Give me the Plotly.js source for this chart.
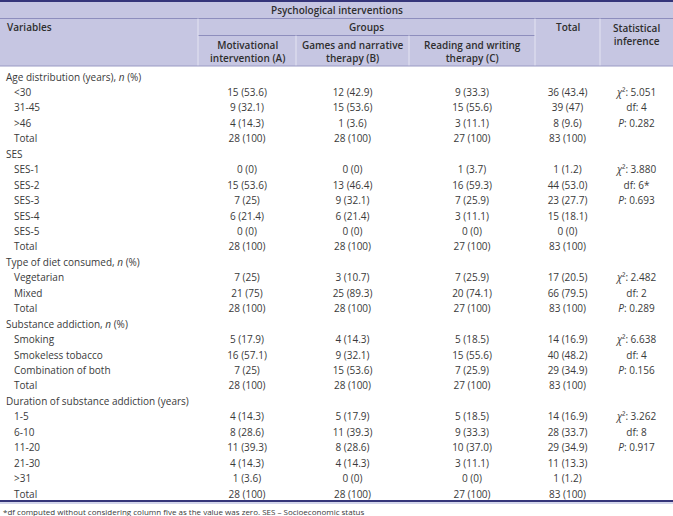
<!DOCTYPE html>
<html>
<head>
<meta charset="utf-8">
<script src="https://cdn.plot.ly/plotly-3.0.1.min.js"></script>
<style>html,body{margin:0;padding:0;background:#fff;}#chart{width:673px;height:516px;}</style>
</head>
<body>
<div id="chart"></div>
<script>
// ---------- DATA ----------
const tableTitle = "Psychological interventions";
const groupHeader = "Groups";
const colHeaders = ["Variables", "Motivational<br>intervention (A)", "Games and narrative<br>therapy (B)", "Reading and writing<br>therapy (C)", "Total", "Statistical<br>inference"];

const labels = [
  "Age distribution (years), <i>n</i> (%)", "&lt;30", "31-45", "&gt;46", "Total",
  "SES", "SES-1", "SES-2", "SES-3", "SES-4", "SES-5", "Total",
  "Type of diet consumed, <i>n</i> (%)", "Vegetarian", "Mixed", "Total",
  "Substance addiction, <i>n</i> (%)", "Smoking", "Smokeless tobacco", "Combination of both", "Total",
  "Duration of substance addiction (years)", "1-5", "6-10", "11-20", "21-30", "&gt;31", "Total"
];
const groupA = ["", "15 (53.6)", "9 (32.1)", "4 (14.3)", "28 (100)",
  "", "0 (0)", "15 (53.6)", "7 (25)", "6 (21.4)", "0 (0)", "28 (100)",
  "", "7 (25)", "21 (75)", "28 (100)",
  "", "5 (17.9)", "16 (57.1)", "7 (25)", "28 (100)",
  "", "4 (14.3)", "8 (28.6)", "11 (39.3)", "4 (14.3)", "1 (3.6)", "28 (100)"];
const groupB = ["", "12 (42.9)", "15 (53.6)", "1 (3.6)", "28 (100)",
  "", "0 (0)", "13 (46.4)", "9 (32.1)", "6 (21.4)", "0 (0)", "28 (100)",
  "", "3 (10.7)", "25 (89.3)", "28 (100)",
  "", "4 (14.3)", "9 (32.1)", "15 (53.6)", "28 (100)",
  "", "5 (17.9)", "11 (39.3)", "8 (28.6)", "4 (14.3)", "0 (0)", "28 (100)"];
const groupC = ["", "9 (33.3)", "15 (55.6)", "3 (11.1)", "27 (100)",
  "", "1 (3.7)", "16 (59.3)", "7 (25.9)", "3 (11.1)", "0 (0)", "27 (100)",
  "", "7 (25.9)", "20 (74.1)", "27 (100)",
  "", "5 (18.5)", "15 (55.6)", "7 (25.9)", "27 (100)",
  "", "5 (18.5)", "9 (33.3)", "10 (37.0)", "3 (11.1)", "0 (0)", "27 (100)"];
const totals = ["", "36 (43.4)", "39 (47)", "8 (9.6)", "83 (100)",
  "", "1 (1.2)", "44 (53.0)", "23 (27.7)", "15 (18.1)", "0 (0)", "83 (100)",
  "", "17 (20.5)", "66 (79.5)", "83 (100)",
  "", "14 (16.9)", "40 (48.2)", "29 (34.9)", "83 (100)",
  "", "14 (16.9)", "28 (33.7)", "29 (34.9)", "11 (13.3)", "1 (1.2)", "83 (100)"];
const CHI = "<i>χ</i>²: ";
const stats = ["", CHI + "5.051", "df: 4", "<i>P</i>: 0.282", "",
  "", CHI + "3.880", "df: 6*", "<i>P</i>: 0.693", "", "", "",
  "", CHI + "2.482", "df: 2", "<i>P</i>: 0.289",
  "", CHI + "6.638", "df: 4", "<i>P</i>: 0.156", "",
  "", CHI + "3.262", "df: 8", "<i>P</i>: 0.917", "", "", ""];
const footnote = "*df computed without considering column five as the value was zero. SES – Socioeconomic status";

// ---------- LAYOUT CONSTANTS ----------
const W = 673, H = 516;
const FONT = "Open Sans";
const bodySize = 10, headSize = 10;
const txt = "#3a3a3a";
const headBg = "#c6c6e2";
const navy = "#35357a";
const colEdges = [0, 198, 296, 409, 535, 600, 673];
const colCenter = i => (colEdges[i] + colEdges[i + 1]) / 2;
const firstRowPx = 78, lastRowPx = 495;
const nRows = labels.length;
const rowStep = (lastRowPx - firstRowPx) / (nRows - 1);
const yMin = -firstRowPx / rowStep;
const yMax = yMin + H / rowStep;
const py = p => 1 - p / H; // pixel -> paper

const isSection = groupA.map(v => v === "");

function textTrace(col, xFor, pos) {
  const idx = col.map((v, i) => i).filter(i => col[i] !== "");
  return {
    type: "scatter", mode: "text",
    x: idx.map(xFor), y: idx,
    text: idx.map(i => col[i]), textposition: pos,
    textfont: {family: FONT, size: bodySize, color: txt},
    hoverinfo: "skip", showlegend: false, cliponaxis: false
  };
}

const traces = [];
traces.push(textTrace(labels, i => isSection[i] ? 6 : 14, "middle right"));
[groupA, groupB, groupC, totals, stats].forEach((col, k) => {
  traces.push(textTrace(col, () => colCenter(k + 1), "middle center"));
});

const shapes = [];
shapes.push({type: "rect", xref: "x", yref: "paper", x0: 0, x1: W, y0: py(0), y1: py(66), fillcolor: headBg, line: {width: 0}, layer: "below"});
shapes.push({type: "line", xref: "x", yref: "paper", x0: 0, x1: W, y0: py(1), y1: py(1), line: {color: navy, width: 2}});
shapes.push({type: "line", xref: "x", yref: "paper", x0: 0, x1: W, y0: py(18.5), y1: py(18.5), line: {color: "#8e8ebd", width: 1}});
shapes.push({type: "line", xref: "x", yref: "paper", x0: colEdges[1], x1: colEdges[4], y0: py(35.5), y1: py(35.5), line: {color: "#8e8ebd", width: 1}});
[1, 4, 5].forEach(i => shapes.push({type: "line", xref: "x", yref: "paper", x0: colEdges[i], x1: colEdges[i], y0: py(18.5), y1: py(66), line: {color: "#e4e4f2", width: 1}}));
[2, 3].forEach(i => shapes.push({type: "line", xref: "x", yref: "paper", x0: colEdges[i], x1: colEdges[i], y0: py(35.5), y1: py(66), line: {color: "#e4e4f2", width: 1}}));
shapes.push({type: "line", xref: "x", yref: "paper", x0: 0, x1: W, y0: py(66), y1: py(66), line: {color: "#9a9ac4", width: 1}});
shapes.push({type: "line", xref: "x", yref: "paper", x0: 0, x1: W, y0: py(501), y1: py(501), line: {color: navy, width: 2}});
shapes.push({type: "line", xref: "x", yref: "paper", x0: 0, x1: W, y0: py(503), y1: py(503), line: {color: "#a8acd8", width: 1}});

const hf = {family: FONT, size: headSize, color: "#2e2e2e", weight: 600};
const ann = [];
ann.push({xref: "x", yref: "paper", x: W / 2, y: py(10), text: tableTitle, showarrow: false, xanchor: "center", yanchor: "middle", font: hf});
ann.push({xref: "x", yref: "paper", x: 5, y: py(27), text: colHeaders[0], showarrow: false, xanchor: "left", yanchor: "middle", font: hf});
ann.push({xref: "x", yref: "paper", x: (colEdges[1] + colEdges[4]) / 2, y: py(27), text: groupHeader, showarrow: false, xanchor: "center", yanchor: "middle", font: hf});
[1, 2, 3].forEach(i => ann.push({xref: "x", yref: "paper", x: colCenter(i), y: py(51.5), text: colHeaders[i], showarrow: false, xanchor: "center", yanchor: "middle", font: hf}));
ann.push({xref: "x", yref: "paper", x: colCenter(4), y: py(27), text: colHeaders[4], showarrow: false, xanchor: "center", yanchor: "middle", font: hf});
ann.push({xref: "x", yref: "paper", x: colCenter(5), y: py(34), text: colHeaders[5], showarrow: false, xanchor: "center", yanchor: "middle", font: hf});
ann.push({xref: "x", yref: "paper", x: 1, y: py(511), text: footnote, showarrow: false, xanchor: "left", yanchor: "middle", font: {family: FONT, size: 8, color: txt}});

const layout = {
  width: W, height: H, margin: {l: 0, r: 0, t: 0, b: 0},
  paper_bgcolor: "#ffffff", plot_bgcolor: "#ffffff",
  xaxis: {range: [0, W], visible: false, fixedrange: true},
  yaxis: {range: [yMax, yMin], visible: false, fixedrange: true},
  shapes: shapes, annotations: ann, showlegend: false
};
Plotly.newPlot("chart", traces, layout, {staticPlot: true, displayModeBar: false});
</script>
</body>
</html>
